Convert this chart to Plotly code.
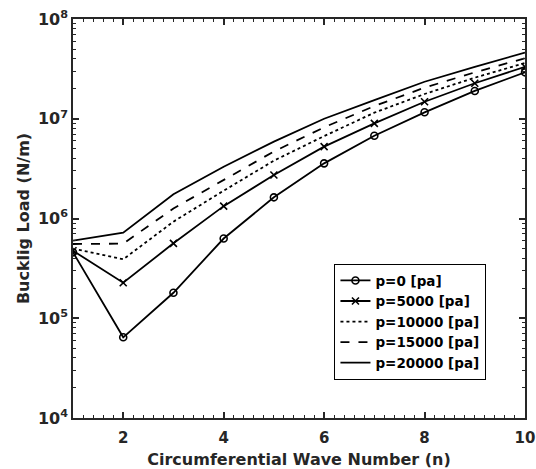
import plotly.graph_objects as go

n = [1, 2, 3, 4, 5, 6, 7, 8, 9, 10]
p0 = [4.58e5, 6.44e4, 1.80e5, 6.3e5, 1.63e6, 3.57e6, 6.76e6, 1.16e7, 1.90e7, 2.92e7]
p5000 = [4.75e5, 2.27e5, 5.64e5, 1.33e6, 2.73e6, 5.25e6, 9.0e6, 1.48e7, 2.27e7, 3.32e7]
p10000 = [5.0e5, 3.9e5, 9.3e5, 1.9e6, 3.8e6, 6.7e6, 1.15e7, 1.77e7, 2.58e7, 3.62e7]
p15000 = [5.55e5, 5.6e5, 1.26e6, 2.45e6, 4.7e6, 8.2e6, 1.34e7, 2.05e7, 2.92e7, 4.04e7]
p20000 = [6.0e5, 7.2e5, 1.75e6, 3.3e6, 5.9e6, 1.0e7, 1.54e7, 2.35e7, 3.32e7, 4.6e7]
names = ["p=0 [pa]", "p=5000 [pa]", "p=10000 [pa]", "p=15000 [pa]", "p=20000 [pa]"]

x_ticks = [2, 4, 6, 8, 10]
y_ticks = [1e4, 1e5, 1e6, 1e7, 1e8]
y_ticktext = ["<b>10<sup>4</sup></b>", "<b>10<sup>5</sup></b>", "<b>10<sup>6</sup></b>",
              "<b>10<sup>7</sup></b>", "<b>10<sup>8</sup></b>"]

black = "#000000"
fig = go.Figure()
fig.add_trace(go.Scatter(x=n, y=p0, name="<b>" + names[0] + "</b>", mode="lines+markers",
                         line=dict(color=black, width=1.8),
                         marker=dict(symbol="circle-open", size=7, color=black, line=dict(width=1.6))))
fig.add_trace(go.Scatter(x=n, y=p5000, name="<b>" + names[1] + "</b>", mode="lines+markers",
                         line=dict(color=black, width=1.8),
                         marker=dict(symbol="x-thin-open", size=7, color=black, line=dict(width=1.6))))
fig.add_trace(go.Scatter(x=n, y=p10000, name="<b>" + names[2] + "</b>", mode="lines",
                         line=dict(color=black, width=1.8, dash="dot")))
fig.add_trace(go.Scatter(x=n, y=p15000, name="<b>" + names[3] + "</b>", mode="lines",
                         line=dict(color=black, width=1.8, dash="dash")))
fig.add_trace(go.Scatter(x=n, y=p20000, name="<b>" + names[4] + "</b>", mode="lines",
                         line=dict(color=black, width=1.8)))

axcol = "#262626"
fontfam = "DejaVu Sans, Arial, sans-serif"
minor_y = [k * 10 ** e for e in range(4, 8) for k in range(2, 10)]

fig.update_layout(
    width=536, height=469,
    margin=dict(l=73, r=11, t=19, b=51),
    paper_bgcolor="white", plot_bgcolor="white",
    font=dict(family=fontfam, size=15, color=axcol),
    xaxis=dict(
        range=[1, 10], tickvals=x_ticks, ticktext=["<b>%d</b>" % v for v in x_ticks],
        showgrid=False, zeroline=False, showline=True, linecolor=axcol, linewidth=1.5,
        mirror="ticks", ticks="inside", ticklen=6, tickwidth=1.5, tickcolor=axcol,
        ticklabelstandoff=5, automargin=False,
        minor=dict(ticks="inside", ticklen=3, tickwidth=1.2, tickcolor=axcol, dtick=0.2, showgrid=False),
        title=dict(text="<b>Circumferential Wave Number (n)</b>", font=dict(size=16, color=axcol), standoff=10),
        tickfont=dict(size=15, color=axcol),
    ),
    yaxis=dict(
        type="log", range=[4, 8], tickvals=y_ticks, ticktext=y_ticktext,
        showgrid=False, zeroline=False, showline=True, linecolor=axcol, linewidth=1.5,
        mirror="ticks", ticks="inside", ticklen=6, tickwidth=1.5, tickcolor=axcol,
        automargin=False,
        minor=dict(ticks="inside", ticklen=3, tickwidth=1.2, tickcolor=axcol, tickvals=minor_y, showgrid=False),
        title=dict(text="<b>Bucklig Load (N/m)</b>", font=dict(size=16, color=axcol), standoff=4),
        tickfont=dict(size=16, color=axcol),
    ),
    legend=dict(
        x=0.578, y=0.386, xanchor="left", yanchor="top",
        bgcolor="white", bordercolor=black, borderwidth=1.2,
        font=dict(size=13.5, color=black), tracegroupgap=0, itemwidth=30,
    ),
    showlegend=True,
)

fig.write_html("out.html")
